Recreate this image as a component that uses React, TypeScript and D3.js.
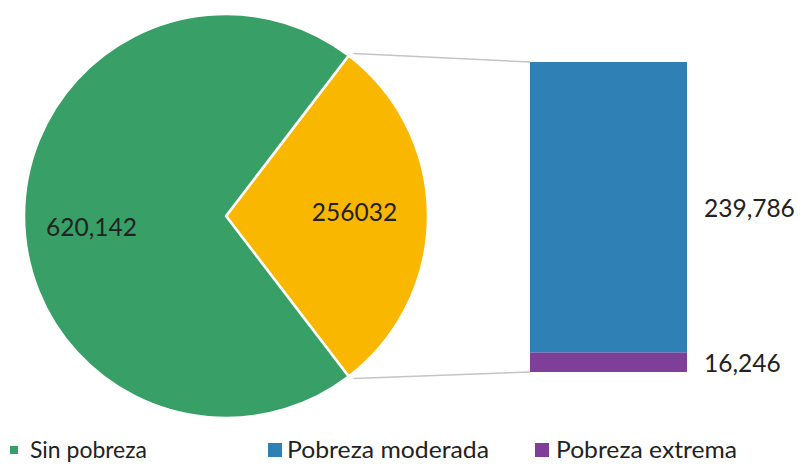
import React from "react";
import * as d3 from "d3";

const pieCategories = ["Sin pobreza", "Pobreza"];
const pieValues = [620142, 256032];
const pieLabels = ["620,142", "256032"];
const barCategories = ["Pobreza moderada", "Pobreza extrema"];
const barValues = [239786, 16246];
const barLabels = ["239,786", "16,246"];
const legendLabels = ["Sin pobreza", "Pobreza moderada", "Pobreza extrema"];

const W = 801;
const H = 465;
const FONT = "Lato, 'Open Sans', sans-serif";
const GREEN = "#38A067";
const YELLOW = "#F9B700";
const BLUE = "#2F80B5";
const PURPLE = "#7F3F98";
const LABEL = "#222222";
const FS = 24.5;

export default function App() {
  const cx = 226;
  const cy = 216;
  const r = 202;
  const total = d3.sum(pieValues);
  const otherAngle = (pieValues[1] / total) * Math.PI * 2;
  const start = Math.PI / 2 - otherAngle / 2;

  const pieGen = d3
    .pie<number>()
    .sort(null)
    .value((d) => d)
    .startAngle(start)
    .endAngle(start + Math.PI * 2);
  const arcsData = pieGen([pieValues[1], pieValues[0]]);
  const arcGen = d3.arc<d3.PieArcDatum<number>>().innerRadius(0).outerRadius(r);
  const pieColors = [YELLOW, GREEN];
  const pieTexts = [pieLabels[1], pieLabels[0]];
  const labelR = [0.636 * r, 0.666 * r];
  const labelDy = [-4, 11];

  const barX0 = 530;
  const barX1 = 687;
  const barSum = d3.sum(barValues);
  const y = d3.scaleLinear().domain([0, barSum]).range([372, 62]);
  const stacked: { y0: number; y1: number; v: number; i: number }[] = [];
  let acc = 0;
  [1, 0].forEach((i) => {
    stacked.push({ y0: acc, y1: acc + barValues[i], v: barValues[i], i });
    acc += barValues[i];
  });
  const barColors = [BLUE, PURPLE];

  const a0 = start;
  const a1 = start + otherAngle;
  const pTop = [cx + r * Math.sin(a0), cy - r * Math.cos(a0)];
  const pBot = [cx + r * Math.sin(a1), cy - r * Math.cos(a1)];

  const legendItems = [
    { label: legendLabels[0], color: GREEN, x: 10, w: 8, y0: 446, tx: 30, len: 117 },
    { label: legendLabels[1], color: BLUE, x: 268, w: 14, y0: 443, tx: 287, len: 202 },
    { label: legendLabels[2], color: PURPLE, x: 535, w: 14, y0: 443, tx: 556, len: 181 },
  ];
  const legendBaseline = 458;
  const base = 0.36 * FS;

  return (
    <svg width={W} height={H} style={{ position: "absolute", left: 0, top: 0, background: "#fff" }}>
      <rect width={W} height={H} fill="#fff" />
      <g transform={`translate(${cx},${cy})`}>
        {arcsData.map((d, i) => (
          <path key={i} d={arcGen(d) || ""} fill={pieColors[i]} stroke="#fff" strokeWidth={2.5} strokeLinejoin="round" />
        ))}
        {arcsData.map((d, i) => {
          const mid = (d.startAngle + d.endAngle) / 2;
          const lx = labelR[i] * Math.sin(mid);
          const ly = -labelR[i] * Math.cos(mid) + labelDy[i];
          return (
            <text key={i} x={lx} y={ly + base} textAnchor="middle" fontFamily={FONT} fontSize={FS} fill={LABEL}>
              {pieTexts[i]}
            </text>
          );
        })}
      </g>
      <line x1={pTop[0] + 5} y1={pTop[1] - 2} x2={barX0} y2={y(barSum)} stroke="#c4c4c4" strokeWidth={1.5} />
      <line x1={pBot[0] + 5} y1={pBot[1] + 2} x2={barX0} y2={y(0)} stroke="#c4c4c4" strokeWidth={1.5} />
      {stacked.map((s) => (
        <g key={s.i}>
          <rect x={barX0} y={y(s.y1)} width={barX1 - barX0} height={y(s.y0) - y(s.y1)} fill={barColors[s.i]} />
          <text x={704} y={(y(s.y0) + y(s.y1)) / 2 + base + 1} fontFamily={FONT} fontSize={FS} fill={LABEL}>
            {barLabels[s.i]}
          </text>
        </g>
      ))}
      {legendItems.map((l, i) => (
        <g key={i}>
          <rect x={l.x} y={l.y0} width={l.w} height={l.w} fill={l.color} />
          <text
            x={l.tx}
            y={legendBaseline}
            fontFamily={FONT}
            fontSize={24}
            fill={LABEL}
            textLength={l.len}
            lengthAdjust="spacingAndGlyphs"
          >
            {l.label}
          </text>
        </g>
      ))}
    </svg>
  );
}
